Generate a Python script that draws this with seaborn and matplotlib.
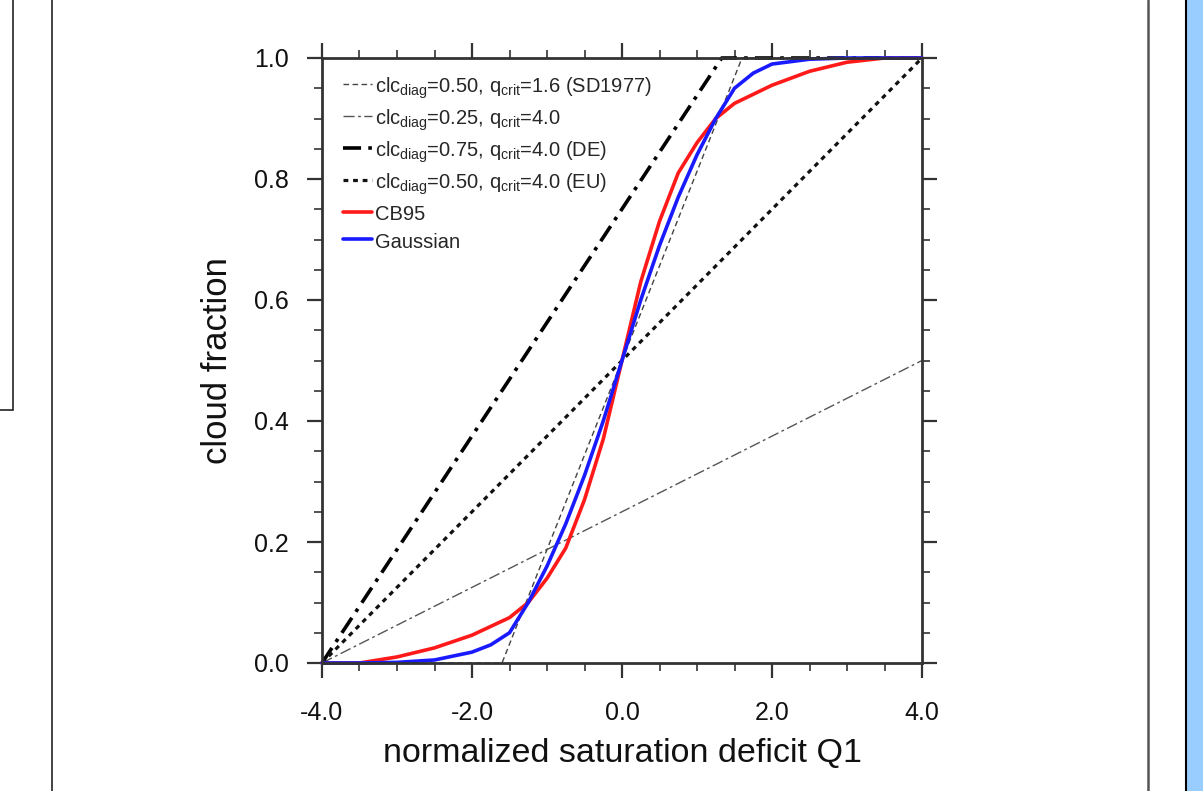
import numpy as np
import pandas as pd
import matplotlib
matplotlib.use("Agg")
import matplotlib.pyplot as plt
from matplotlib.lines import Line2D
from matplotlib.patches import Rectangle
from matplotlib.ticker import MultipleLocator
import seaborn as sns

# diagnostic cloud schemes (breakpoints)
sd_x = [-4.0, -1.6, 1.6, 4.0]
sd_y = [0.0, 0.0, 1.0, 1.0]
c25_x = [-4.0, 4.0]
c25_y = [0.0, 0.5]
de_x = [-4.0, 1.33, 4.0]
de_y = [0.0, 1.0, 1.0]
eu_x = [-4.0, 4.0]
eu_y = [0.0, 1.0]

# CB95 (red)
cb_x = [-4.0, -3.5, -3.0, -2.5, -2.0, -1.5, -1.25, -1.0, -0.75, -0.5, -0.25, 0.0,
        0.25, 0.5, 0.75, 1.0, 1.25, 1.5, 2.0, 2.5, 3.0, 3.5, 4.0]
cb_y = [0.0, 0.0, 0.01, 0.025, 0.046, 0.075, 0.10, 0.14, 0.19, 0.27, 0.37, 0.50,
        0.63, 0.73, 0.81, 0.86, 0.90, 0.925, 0.955, 0.978, 0.993, 1.0, 1.0]

# Gaussian (blue)
ga_x = [-4.0, -3.5, -3.0, -2.5, -2.0, -1.75, -1.5, -1.25, -1.0, -0.75, -0.5, -0.25, 0.0,
        0.25, 0.5, 0.75, 1.0, 1.25, 1.5, 1.75, 2.0, 2.5, 3.0, 4.0]
ga_y = [0.0, 0.0, 0.001, 0.005, 0.018, 0.03, 0.05, 0.10, 0.16, 0.23, 0.31, 0.40, 0.50,
        0.60, 0.69, 0.77, 0.84, 0.90, 0.95, 0.975, 0.99, 0.998, 1.0, 1.0]

labels = [
    r"clc$_{\rm diag}$=0.50, q$_{\rm crit}$=1.6 (SD1977)",
    r"clc$_{\rm diag}$=0.25, q$_{\rm crit}$=4.0",
    r"clc$_{\rm diag}$=0.75, q$_{\rm crit}$=4.0 (DE)",
    r"clc$_{\rm diag}$=0.50, q$_{\rm crit}$=4.0 (EU)",
    "CB95",
    "Gaussian",
]

sns.set_theme(style="ticks")
plt.rcParams["font.family"] = ["Liberation Sans", "DejaVu Sans"]
plt.rcParams["mathtext.fontset"] = "custom"
plt.rcParams["mathtext.rm"] = "Liberation Sans"

fig = plt.figure(figsize=(12.03, 7.91), dpi=100)
ax = fig.add_axes([322 / 1203, 128 / 791, 600 / 1203, 605 / 791])

sns.lineplot(x=sd_x, y=sd_y, ax=ax, color="#444444", lw=1.0, ls=(0, (4, 2.5)),
             label=labels[0], clip_on=False)
sns.lineplot(x=c25_x, y=c25_y, ax=ax, color="#555555", lw=1.0, ls=(0, (8, 2.5, 2, 2.5)),
             label=labels[1], clip_on=False)
sns.lineplot(x=de_x, y=de_y, ax=ax, color="black", lw=2.6, ls=(0, (5, 2, 1, 2)),
             label=labels[2], clip_on=False)
sns.lineplot(x=eu_x, y=eu_y, ax=ax, color="#111111", lw=2.3, ls=(0, (1.5, 1.5)),
             label=labels[3], clip_on=False)
sns.lineplot(x=cb_x, y=cb_y, ax=ax, color="#ff1a1a", lw=2.6, label=labels[4], clip_on=False)
sns.lineplot(x=ga_x, y=ga_y, ax=ax, color="#1a1aff", lw=2.6, label=labels[5], clip_on=False)

ax.set_xlim(-4, 4)
ax.set_ylim(0, 1)
ax.xaxis.set_major_locator(MultipleLocator(2))
ax.xaxis.set_minor_locator(MultipleLocator(0.5))
ax.yaxis.set_major_locator(MultipleLocator(0.2))
ax.yaxis.set_minor_locator(MultipleLocator(0.05))
ax.xaxis.set_major_formatter(lambda v, p: f"{v:.1f}")
ax.yaxis.set_major_formatter(lambda v, p: f"{v:.1f}")
ax.tick_params(which="both", direction="out", top=True, right=True, color="#333333",
               labelsize=18, labelcolor="#111111")
ax.tick_params(which="major", length=11, width=1.6)
ax.tick_params(which="minor", length=5.5, width=1.2)
ax.tick_params(axis="y", which="major", pad=13)
ax.tick_params(axis="x", which="major", pad=16)
for s in ax.spines.values():
    s.set_linewidth(2.0)
    s.set_color("#333333")

ax.set_xlabel("normalized saturation deficit Q1", fontsize=24.5, color="#111111", labelpad=10)
ax.set_ylabel("cloud fraction", fontsize=25, color="#111111", labelpad=14)

# tall handle boxes keep every legend row the same height
ax.legend(loc="upper left", frameon=False, fontsize=14.5, handlelength=1.45,
          handleheight=1.25, handletextpad=0.15, labelspacing=0.31, borderaxespad=0.0,
          bbox_to_anchor=(0.022, 0.985))

# screenshot frame decorations
fig.add_artist(Rectangle((-0.01, 1 - 410 / 791), 13 / 1203 + 0.01, 410 / 791 + 0.01,
                         transform=fig.transFigure, fill=False, lw=1.2, ec="#222222"))
fig.add_artist(Line2D([51.5 / 1203] * 2, [0, 1], transform=fig.transFigure, lw=1.2, color="#222222"))
fig.add_artist(Line2D([1148 / 1203] * 2, [0, 1], transform=fig.transFigure, lw=1.8, color="#555555"))
fig.add_artist(Rectangle((1186 / 1203, 0), 17 / 1203, 1, transform=fig.transFigure,
                         fc="#99ccff", ec="none"))
fig.add_artist(Line2D([1185.8 / 1203] * 2, [0, 1], transform=fig.transFigure, lw=1.5, color="black"))

fig.savefig("out.png", dpi=100)
